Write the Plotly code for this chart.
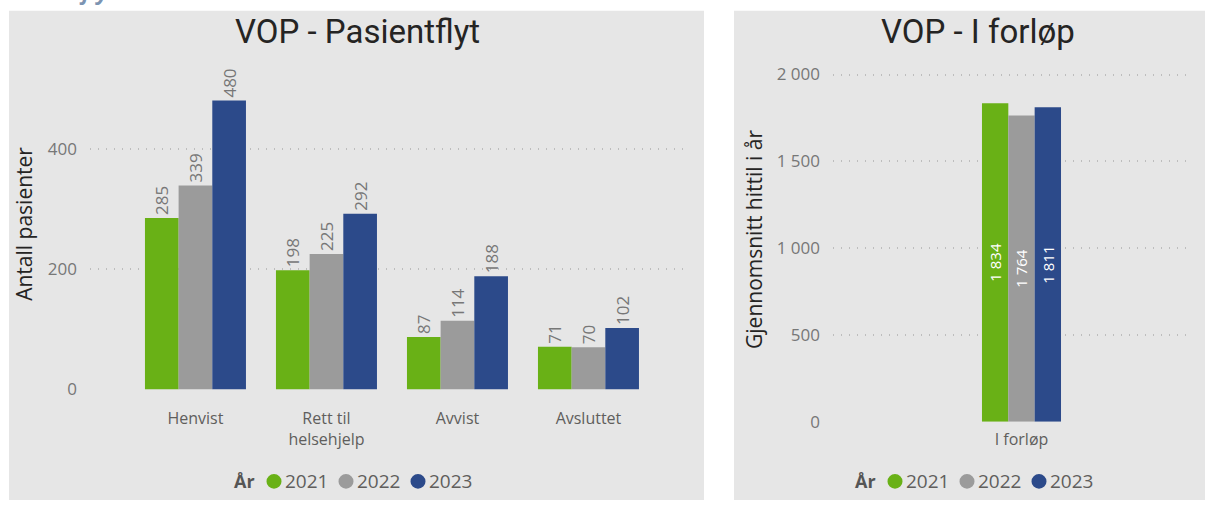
import plotly.graph_objects as go

# --- data -------------------------------------------------------------
years = ["2021", "2022", "2023"]
colors = ["#69B116", "#9B9B9B", "#2C4A8A"]

flow_categories = ["Henvist", "Rett til helsehjelp", "Avvist", "Avsluttet"]
flow_ticktext = ["Henvist", "Rett til<br>helsehjelp", "Avvist", "Avsluttet"]
flow_values = {
    "2021": [285, 198, 87, 71],
    "2022": [339, 225, 114, 70],
    "2023": [480, 292, 188, 102],
}

ongoing_categories = ["I forløp"]
ongoing_values = {
    "2021": [1834],
    "2022": [1764],
    "2023": [1811],
}

# --- canvas -----------------------------------------------------------
W, H = 1205, 511
BODY = "Open Sans"
TITLE = "Roboto"
DARK = "#252423"
MID = "#605E5C"
TICK = "#777777"
PANEL = "#E6E6E6"


def px(x):
    return x / W


def py(y):
    return 1 - y / H


def fmt(v):
    return f"{v:,}".replace(",", " ")


fig = go.Figure()

for yr, col in zip(years, colors):
    fig.add_trace(go.Bar(
        x=flow_categories, y=flow_values[yr], name=yr,
        marker=dict(color=col, line=dict(width=0)),
        text=[fmt(v) for v in flow_values[yr]],
        textposition="outside", textangle=-90,
        outsidetextfont=dict(family=BODY, size=17, color=TICK),
        cliponaxis=False, showlegend=False,
        xaxis="x", yaxis="y",
    ))

for yr, col in zip(years, colors):
    fig.add_trace(go.Bar(
        x=ongoing_categories, y=ongoing_values[yr], name=yr,
        marker=dict(color=col, line=dict(width=0)),
        text=[fmt(v) for v in ongoing_values[yr]],
        textposition="inside", insidetextanchor="middle", textangle=-90,
        insidetextfont=dict(family=BODY, size=17, color="white"),
        cliponaxis=False, showlegend=False,
        xaxis="x2", yaxis="y2",
    ))

grid = dict(showgrid=True, gridcolor="#BDBDBD", griddash="1px,7px", gridwidth=1.5,
            zeroline=False, showline=False, ticks="",
            tickfont=dict(family=BODY, size=17, color=TICK))

# left panel plot area: x 90..690, y 60..398; right panel: x 833..1190, y 58..431
fig.update_layout(
    xaxis=dict(domain=[px(90), px(690)], anchor="y", type="category",
               range=[-0.805, 3.775], tickvals=flow_categories, ticktext=flow_ticktext,
               showgrid=False, zeroline=False, showline=False, ticks="",
               ticklabelstandoff=18,
               tickfont=dict(family=BODY, size=16, color=MID)),
    yaxis=dict(domain=[py(398), py(398 - 550 * 0.615)], anchor="x",
               range=[0, 550], dtick=200, tickformat=",d",
               ticklabelstandoff=12,
               title=dict(text="Antall pasienter", standoff=9,
                          font=dict(family=BODY, size=21, color=DARK)),
               **grid),
    xaxis2=dict(domain=[px(833), px(1190)], anchor="y2", type="category",
                range=[-1.839, 1.644],
                showgrid=False, zeroline=False, showline=False, ticks="",
                ticklabelstandoff=6,
                tickfont=dict(family=BODY, size=16, color=MID)),
    yaxis2=dict(domain=[py(431), py(431 - 2100 * 0.17742)], anchor="x2",
                range=[0, 2100], dtick=500, tickformat=",d",
                ticklabelstandoff=12,
                title=dict(text="Gjennomsnitt hittil i år", standoff=8,
                           font=dict(family=BODY, size=21, color=DARK)),
                **grid),
)

# panel backgrounds
shapes = [
    dict(type="rect", xref="paper", yref="paper", x0=px(9), x1=px(704),
         y0=0, y1=py(11), fillcolor=PANEL, line=dict(width=0), layer="below"),
    dict(type="rect", xref="paper", yref="paper", x0=px(734), x1=1,
         y0=0, y1=py(11), fillcolor=PANEL, line=dict(width=0), layer="below"),
]

annotations = [
    dict(text="<b><i>Pasientflyt VOP</i></b>", x=px(2), y=py(8), xref="paper", yref="paper",
         xanchor="left", yanchor="bottom", showarrow=False,
         font=dict(family=BODY, size=22, color="#7C94B2")),
    dict(text="VOP - Pasientflyt", x=px(357), y=py(32), xref="paper", yref="paper",
         xanchor="center", yanchor="middle", showarrow=False,
         font=dict(family=TITLE, size=33, color=DARK)),
    dict(text="VOP - I forløp", x=px(978), y=py(32), xref="paper", yref="paper",
         xanchor="center", yanchor="middle", showarrow=False,
         font=dict(family=TITLE, size=33, color=DARK)),
]


def add_legend(x_start, y_mid):
    annotations.append(dict(text="<b>År</b>", x=px(x_start), y=py(y_mid), xref="paper",
                            yref="paper", xanchor="left", yanchor="middle", showarrow=False,
                            font=dict(family=BODY, size=18, color="#555555")))
    cx = x_start + 42
    for yr, col in zip(years, colors):
        r = 7.5
        shapes.append(dict(type="circle", xref="paper", yref="paper",
                           x0=px(cx - r), x1=px(cx + r), y0=py(y_mid + r), y1=py(y_mid - r),
                           fillcolor=col, line=dict(width=0)))
        annotations.append(dict(text=yr, x=px(cx + 9), y=py(y_mid), xref="paper", yref="paper",
                                xanchor="left", yanchor="middle", showarrow=False,
                                font=dict(family=BODY, size=19, color=MID)))
        cx += 72


add_legend(232, 492)
add_legend(853, 492)

fig.update_layout(
    width=W, height=H, margin=dict(l=0, r=0, t=0, b=0),
    paper_bgcolor="white", plot_bgcolor="rgba(0,0,0,0)",
    barmode="group", bargap=0.229, bargroupgap=0,
    separators=", ", showlegend=False,
    shapes=shapes, annotations=annotations,
)

fig.write_html("out.html")
